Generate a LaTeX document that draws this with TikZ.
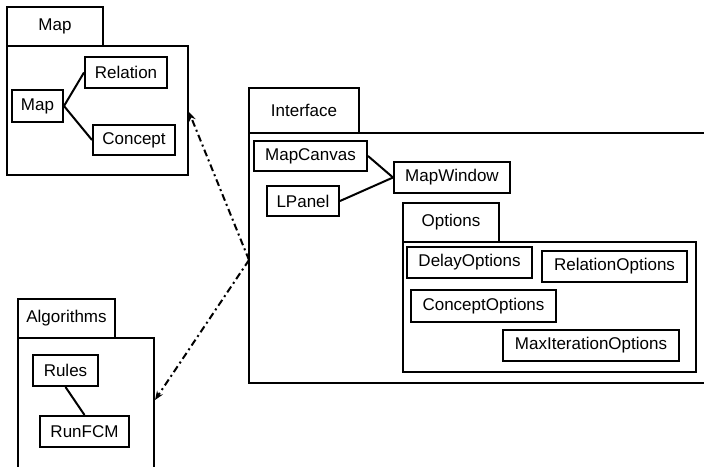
\documentclass[tikz,border=0pt]{standalone}
\usepackage{fontspec}
\setmainfont{Liberation Sans}
\usetikzlibrary{arrows.meta}
\tikzset{
  cls/.style={draw, line width=2pt, inner sep=0pt, font=\fontsize{17}{20}\selectfont},
  tab/.style={draw, line width=1.8pt, inner sep=0pt, font=\fontsize{17}{20}\selectfont},
  pkg/.style={draw, line width=1.8pt, inner sep=0pt},
  link/.style={line width=2pt},
  dep/.style={line width=2pt, dash pattern=on 7pt off 3.5pt on 2pt off 3.5pt, -{Stealth[length=9pt,width=7pt,inset=3pt]}},
}
\begin{document}
\begin{tikzpicture}[x=1pt,y=-1pt]
\clip (0,0) rectangle (704,466);
\fill[white] (0,0) rectangle (704,466);
% Map package
\node[tab, minimum width=96, minimum height=39] (maptab) at (55,26.5) {Map};
\node[pkg, minimum width=181, minimum height=129] (mapbody) at (97.5,110.5) {};
\node[cls, minimum width=51, minimum height=32] (map) at (37.5,106) {Map};
\node[cls, minimum width=82, minimum height=31] (relation) at (126,72.5) {Relation};
\node[cls, minimum width=82, minimum height=30] (concept) at (134,140) {Concept};
\draw[link] (map.east) -- (relation.west);
\draw[link] (map.east) -- (concept.west);
% Algorithms package
\node[tab, minimum width=97, minimum height=39] (algtab) at (66.5,318.5) {Algorithms};
\node[pkg, minimum width=136, minimum height=142] (algbody) at (86,409) {};
\node[cls, minimum width=65, minimum height=31] (rules) at (65.5,370.5) {Rules};
\node[cls, minimum width=89, minimum height=31] (runfcm) at (84.5,431.5) {RunFCM};
\draw[link] (rules.south) -- (runfcm.north);
% Interface package
\node[tab, minimum width=110, minimum height=45] (iftab) at (304,110.5) {Interface};
\node[pkg, minimum width=471, minimum height=250] (ifbody) at (484.5,258) {};
\node[cls, minimum width=113, minimum height=30] (mapcanvas) at (310.5,156) {MapCanvas};
\node[cls, minimum width=72, minimum height=30] (lpanel) at (303,201) {LPanel};
\node[cls, minimum width=116, minimum height=31] (mapwindow) at (452,177.5) {MapWindow};
\draw[link] (mapcanvas.east) -- (mapwindow.west);
\draw[link] (lpanel.east) -- (mapwindow.west);
% Options package
\node[tab, minimum width=96, minimum height=39] (opttab) at (451,222.5) {Options};
\node[pkg, minimum width=293, minimum height=130] (optbody) at (549.5,307) {};
\node[cls, minimum width=125, minimum height=31] (delay) at (469.5,262.5) {DelayOptions};
\node[cls, minimum width=145, minimum height=31] (relopt) at (614.5,266.5) {RelationOptions};
\node[cls, minimum width=145, minimum height=32] (conopt) at (483.5,306) {ConceptOptions};
\node[cls, minimum width=176, minimum height=31] (maxit) at (591,345.5) {MaxIterationOptions};
% dependencies
\coordinate (ifc) at (249,260);
\coordinate (mapin) at (189,112);
\coordinate (algin) at (155,400);
\draw[dep] (ifc) -- (mapin);
\draw[dep] (ifc) -- (algin);
\end{tikzpicture}
\end{document}
